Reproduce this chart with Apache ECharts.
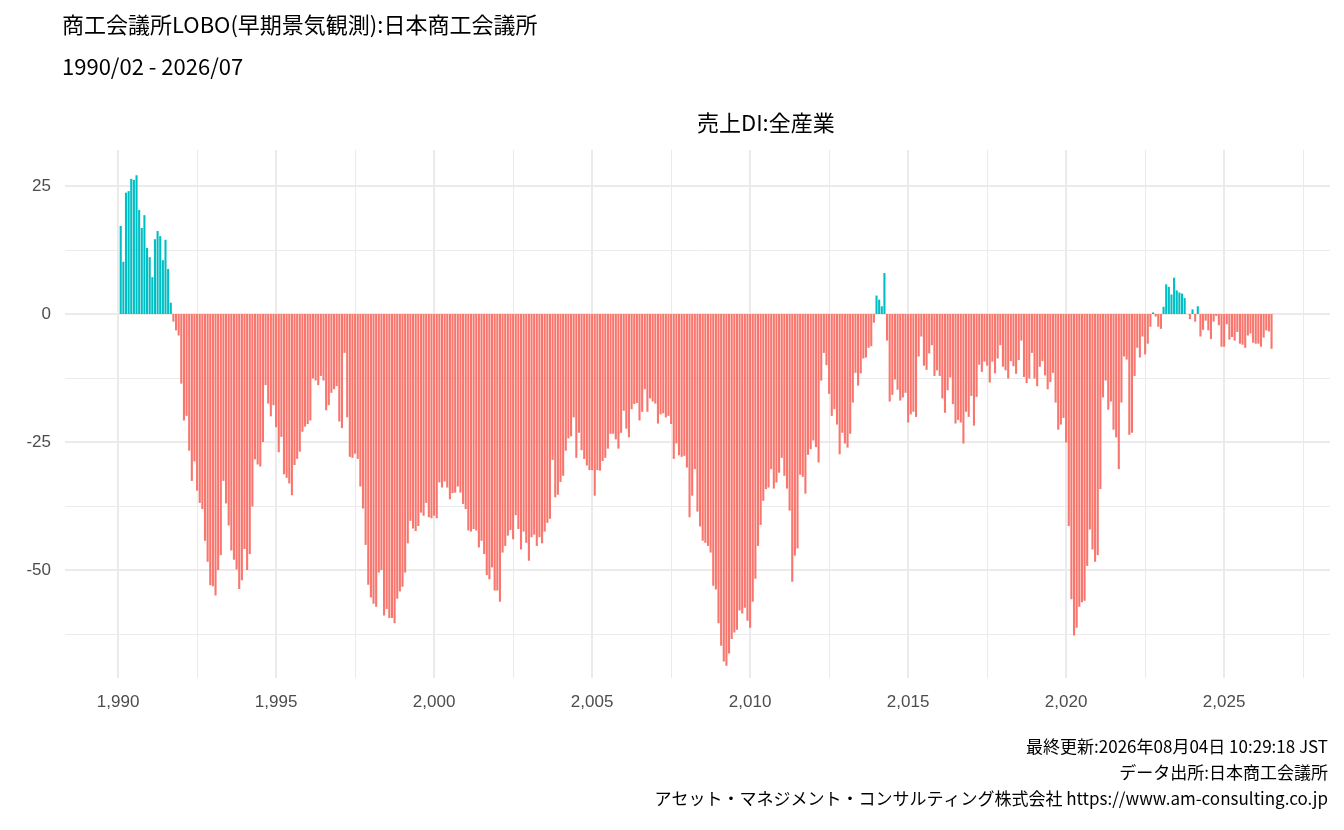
<!DOCTYPE html>
<html><head><meta charset="utf-8">
<script src="https://cdn.jsdelivr.net/npm/echarts@6/dist/echarts.min.js"></script>
<style>html,body{margin:0;padding:0;background:#fff}#c{width:1344px;height:830px}</style>
</head><body><div id="c"></div>
<script>
const startYear = 1990, startMonth = 2;
const salesDI_1990_2013 = [
17.2,10.2,23.7,24,26.4,26.2,27.1,20.3,16.8,19.3,12.9,11.1,7.2,14.6,16.2,15.2,10.5,14.5,8.8,2.2,
-1.5,-3.2,-4.2,-13.6,-20.8,-19.9,-26.7,-32.6,-28.8,-34.5,-36.9,-38.1,-44.3,-48.4,-53,-53.2,-55,-50,-47.1,-32.6,-37,-41.3,
-46.2,-48,-49.9,-53.7,-52,-45.9,-50,-46.9,-37.6,-28.4,-29.4,-29.8,-25,-13.9,-17.5,-20,-17.8,-22.1,-27,-24,-31.3,-32,-33.1,
-35.4,-29.5,-28.3,-26.9,-23,-22,-21.5,-20.8,
-12.6,-13,-13.9,-12.1,-13,-18.8,-17.8,-15.4,-14.7,-14.1,-21,-22.3,-7.6,-20.2,-27.9,-28.1,-27.3,-28.3,-33.7,-38,
-45.1,-52.9,-55.4,-56.6,-57.2,-50.5,-50,-58.9,-57.6,-59.4,-59.4,-60.4,-55.6,-54.2,-53.3,-50.5,-44.8,-40.4,-41.9,-42.4,
-41.4,-38.8,-39.4,-36.9,-39.7,-39.9,-39.4,-39.9,-32.9,-33.9,-32.7,-33.9,-36.2,-35,-34.9,-33.7,-34.9,-37.1,-38.1,-42.3,
-42.5,-42,-42.3,-45.6,-44.3,-46.9,-51,-51.8,-49.5,-54,-54,-56.2,
-46.6,-45.3,-43.3,-42.2,-44,-39.3,-42,-46,-42.5,-44.7,-48.2,-43.6,-43.1,-45.3,-43.6,-44.8,-42.5,-40.8,-40,-28.5,
-35.8,-35.3,-32.8,-31.6,-26.7,-24.3,-23.9,-20.2,-28.1,-23.2,-26.6,-28.3,-29.6,-30.5,-30.5,-35.5,-30.5,-30.6,-28.7,-28.1,
-26.3,-23.4,-23.4,-24.5,-26.3,-23.2,-18.9,-22.4,-24.1,-18.6,-17.6,-17.4,-20.8,-19.1,-14.7,-19.1,-16.5,-17.1,-17.5,-21.4,
-19.6,-19.4,-20.2,-19.9,-21.5,-28.3,-25.3,-27.6,-27.9,-27.7,-30,-39.7,-35.5,
-30.3,-38.6,-41.5,-44.3,-44.7,-45.3,-46.6,-53.1,-53.8,-60.4,-64.8,-67.9,-68.7,-66.3,-63.5,-62.2,-61.7,-57.9,-58.5,-57.4,
-59.9,-61.3,-56.2,-51.7,-45.3,-41.2,-36.5,-34.2,-33.9,-30.3,-34.1,-32.9,-31,-28.1,-31.6,-34.1,-38.4,-52.3,-47.2,-45.8,
-31.4,-31.8,-35.1,-27.5,-26.4,-24.7,-26,-29,-13,-7.6,-10,-15.6,-19.9,-18.6,-21.6,-27.4,-23.2,-25.3,-26.1,-23.4,
-17.3,-11.5,-14,-11.6,-8.7,-8.5,-6.6,-6.3,-1.7
];
const salesDI_2014_2026 = [
3.6,2.8,1.5,8.0,
-5.2,-17.1,-15.8,-12.8,-14.8,-16.9,-16.3,-15.4,-21.2,-19.6,-19.1,-20.1,-8.3,-4.4,-10.1,-10.9,-7.7,-6.1,-12.1,-11,
-12.1,-16.5,-19.3,-14.9,-12.4,-17.6,-21.4,-20.7,-21.2,-25.3,-19.1,-20.1,-16,-21.8,-16.2,-9.9,-11.3,-9.3,-10.1,-13.4,
-9.3,-11.6,-8.7,-6.1,-10.3,-11,-12.6,-9.2,-10.2,-11.7,-9,-5.2,-12.3,-13.5,-12.6,-7.6,-12.6,-14.1,-10.3,-9.2,
-12,-14.7,-13.3,-11.5,-17.3,-22.6,
-21.6,-20.3,-25.1,-41.4,-55.7,-62.8,-61.3,-57.2,-56.3,-56,-49.2,-42.1,-46,-48.4,-47.1,-34.2,-16.3,-13,-18.7,-17.1,
-22.6,-24.1,-30.3,-17.3,-8.3,-8.9,-23.6,-23.2,-12.1,-6.6,-8.5,-4.4,-7.9,-5.8,-2.5,0.3,-0.5,-2.5,-2.9,1.4,
5.8,5.3,3.8,7.1,4.6,4.2,4,3.1,0,-1,0.9,-1.5,1.5,-4.4,-3.1,-1.3,-3.2,-4.9,-1.5,-0.4,
-2.2,-6.4,-6.4,-2,-5,-4.5,-5.2,-3.5,-5.8,-6,-6.6,-4.2,-3.8,-5.6,-5.8,-5.8,-6.4,-4.6,-3.2,-3.4,-6.8
];
const xLabels = [1990,1995,2000,2005,2010,2015,2020,2025];
const xMinor = [1992.5,1997.5,2002.5,2007.5,2012.5,2017.5,2022.5,2027.5];
const yLabels = [-50,-25,0,25];
const yMinor = [-62.5,-37.5,-12.5,12.5];

const values = salesDI_1990_2013.concat(salesDI_2014_2026);
const data = values.map((v,i)=>[startYear + (startMonth-1+i)/12, v]);
const ml = (arr, axis, w) => arr.map(v=>({[axis]:v, lineStyle:{color:'#ebebeb', width:w, type:'solid'}}));
const chart = echarts.init(document.getElementById('c'));
const F = '"Noto Sans CJK JP", "Noto Sans", sans-serif';
chart.setOption({
  animation:false,
  textStyle:{fontFamily:F},
  grid:{left:65,right:14,top:150,bottom:152},
  xAxis:{type:'value',min:1988.32,max:2028.35,
    axisLine:{show:false},axisTick:{show:false},splitLine:{show:false},
    axisLabel:{customValues:xLabels,color:'#4d4d4d',fontSize:17,margin:16,fontFamily:'Arial, "Liberation Sans"'}},
  yAxis:{type:'value',min:-71.1,max:32.03,
    axisLine:{show:false},axisTick:{show:false},splitLine:{show:false},
    axisLabel:{customValues:yLabels,color:'#4d4d4d',fontSize:17,margin:14,fontFamily:'Arial, "Liberation Sans"'}},
  graphic:[
    {type:'text',left:62,top:14,style:{text:'商工会議所LOBO(早期景気観測):日本商工会議所',font:'22px '+F,fill:'#000'}},
    {type:'text',left:62,top:56,style:{text:'1990/02 - 2026/07',font:'22px '+F,fill:'#000'}},
    {type:'text',left:697,top:112,style:{text:'売上DI:全産業',font:'22px '+F,fill:'#000',textAlign:'center'}},
    {type:'text',right:16,top:738,style:{text:'最終更新:2026年08月04日 10:29:18 JST',font:'17px '+F,fill:'#000',textAlign:'right'}},
    {type:'text',right:16,top:764,style:{text:'データ出所:日本商工会議所',font:'17px '+F,fill:'#000',textAlign:'right'}},
    {type:'text',right:16,top:790,style:{text:'アセット・マネジメント・コンサルティング株式会社 https://www.am-consulting.co.jp',font:'17px '+F,fill:'#000',textAlign:'right'}}
  ],
  series:[{type:'bar',data:data,barWidth:2.1,
    itemStyle:{color:p=>p.value[1]>0?'#00BFC4':'#F8766D'},
    markLine:{silent:true,symbol:'none',label:{show:false},z:0,
      data:[].concat(ml(xMinor,'xAxis',1),ml(yMinor,'yAxis',1),ml(xLabels,'xAxis',2),ml(yLabels,'yAxis',2))}
  }]
});
</script></body></html>
